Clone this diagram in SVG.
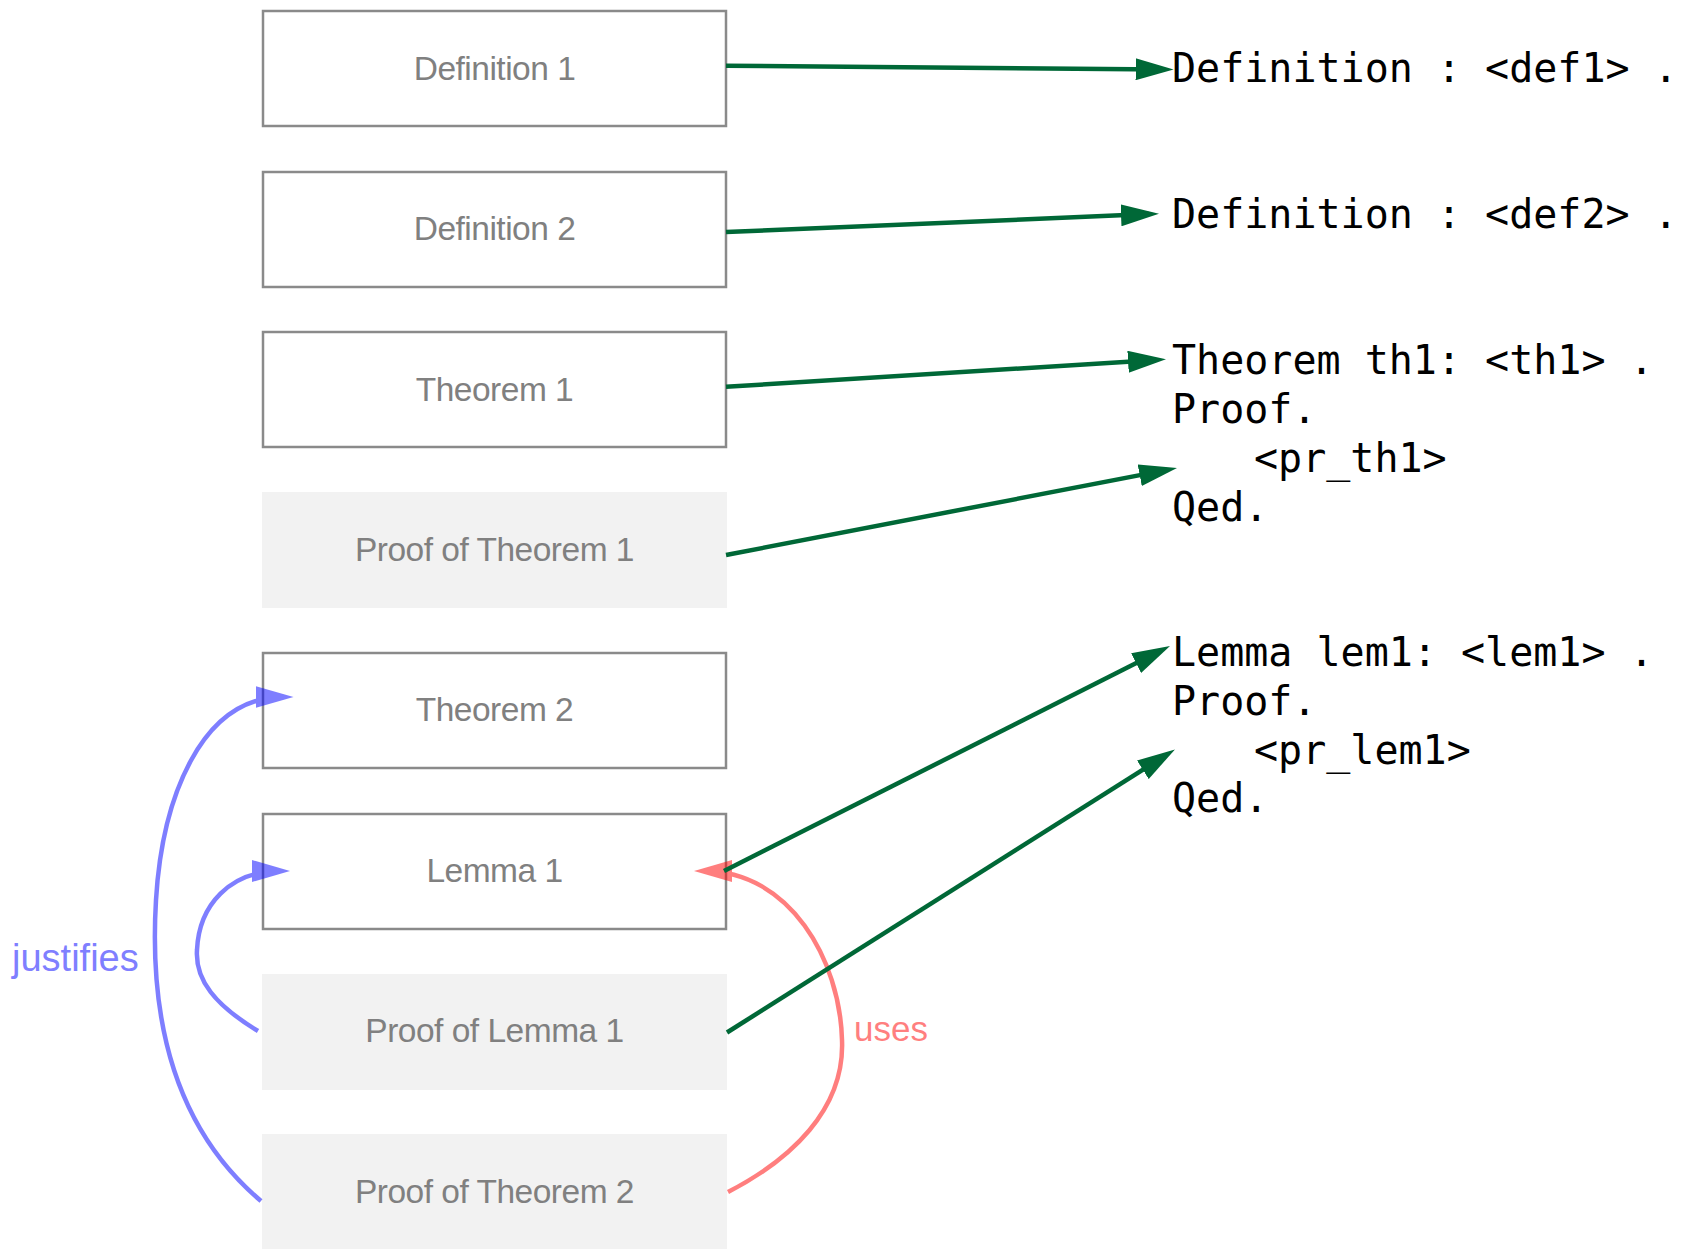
<svg xmlns="http://www.w3.org/2000/svg" width="1692" height="1249" viewBox="0 0 1692 1249">
<defs>
<style>
.box{fill:#ffffff;stroke:#8a8a8a;stroke-width:2.5}
.pbox{fill:#f2f2f2;stroke:none}
.lbl{font-family:"Liberation Sans",Arial,sans-serif;font-size:33.5px;letter-spacing:-0.5px;fill:#808080;text-anchor:middle}
.code{font-family:"DejaVu Sans Mono","Liberation Mono",monospace;font-size:40px;fill:#000000}
.g{fill:none;stroke:#006837;stroke-width:4.5;marker-end:url(#ag)}
.b{fill:none;stroke:#0000ff;stroke-width:4.5;marker-end:url(#ab)}
.r{fill:none;stroke:#ff0000;stroke-width:4.5;marker-end:url(#ar)}
</style>
<marker id="ag" viewBox="0 0 38 22" markerWidth="38" markerHeight="22" refX="28" refY="11" orient="auto" markerUnits="userSpaceOnUse"><path d="M0,0 L38,11 L0,22 z" fill="#006837"/></marker>
<marker id="ab" viewBox="0 0 38 22" markerWidth="38" markerHeight="22" refX="28" refY="11" orient="auto" markerUnits="userSpaceOnUse"><path d="M0,0 L38,11 L0,22 z" fill="#0000ff"/></marker>
<marker id="ar" viewBox="0 0 38 22" markerWidth="38" markerHeight="22" refX="28" refY="11" orient="auto" markerUnits="userSpaceOnUse"><path d="M0,0 L38,11 L0,22 z" fill="#ff0000"/></marker>
</defs>
<rect width="1692" height="1249" fill="#ffffff"/>
<g id="nodes">
<g id="def1"><rect class="box" x="263" y="11" width="463" height="115"/><text class="lbl" x="494.5" y="79.5">Definition 1</text></g>
<g id="def2"><rect class="box" x="263" y="172" width="463" height="115"/><text class="lbl" x="494.5" y="240">Definition 2</text></g>
<g id="th1"><rect class="box" x="263" y="332" width="463" height="115"/><text class="lbl" x="494.5" y="400.5">Theorem 1</text></g>
<g id="proofth1"><rect class="pbox" x="262" y="492" width="465" height="116"/><text class="lbl" x="494.5" y="561">Proof of Theorem 1</text></g>
<g id="th2"><rect class="box" x="263" y="653" width="463" height="115"/><text class="lbl" x="494.5" y="721">Theorem 2</text></g>
<g id="lem1"><rect class="box" x="263" y="814" width="463" height="115"/><text class="lbl" x="494.5" y="881.5">Lemma 1</text></g>
<g id="prooflem1"><rect class="pbox" x="262" y="974" width="465" height="116"/><text class="lbl" x="494.5" y="1042">Proof of Lemma 1</text></g>
<g id="proofth2"><rect class="pbox" x="262" y="1134" width="465" height="116"/><text class="lbl" x="494.5" y="1202.5">Proof of Theorem 2</text></g>
<g id="code-def1"><text class="code" x="1172" y="82">Definition : &lt;def1&gt; .</text></g>
<g id="code-def2"><text class="code" x="1172" y="228">Definition : &lt;def2&gt; .</text></g>
<g id="code-th1">
<text class="code" x="1172" y="374">Theorem th1: &lt;th1&gt; .</text>
<text class="code" x="1172" y="422.6">Proof.</text>
<text class="code" x="1254" y="471.5">&lt;pr_th1&gt;</text>
<text class="code" x="1172" y="520.5">Qed.</text>
</g>
<g id="code-lem1">
<text class="code" x="1172" y="665.8">Lemma lem1: &lt;lem1&gt; .</text>
<text class="code" x="1172" y="714.9">Proof.</text>
<text class="code" x="1254" y="763.5">&lt;pr_lem1&gt;</text>
<text class="code" x="1172" y="812">Qed.</text>
</g>
</g>
<g id="connectors">
<g opacity="0.5"><path class="b" d="M261,1201 C165,1120 150,1000 156,900 C162,800 200,697 283.5,697"/></g>
<g opacity="0.5"><path class="b" d="M258,1031 C215,1005 195,980 197,950 C199,905 230,871 280,871"/></g>
<g opacity="0.5"><path class="r" d="M728,1192 C790,1160 845,1110 842,1040 C840,960 790,871 704,871"/></g>
<path class="g" d="M726,65.7 L1163.6,69.5"/>
<path class="g" d="M726,232 L1149,214.1"/>
<path class="g" d="M726,386.8 L1156,359.9"/>
<path class="g" d="M726,555 L1167.2,469.9"/>
<path class="g" d="M724,871 L1161.1,650.5"/>
<path class="g" d="M727,1032.5 L1166.5,754.8"/>
<text x="12" y="970.7" font-family="'Liberation Sans',Arial,sans-serif" font-size="38" fill="#7f7fff">justifies</text>
<text x="854" y="1040.5" font-family="'Liberation Sans',Arial,sans-serif" font-size="35" fill="#ff7f7f">uses</text>
</g>
</svg>
